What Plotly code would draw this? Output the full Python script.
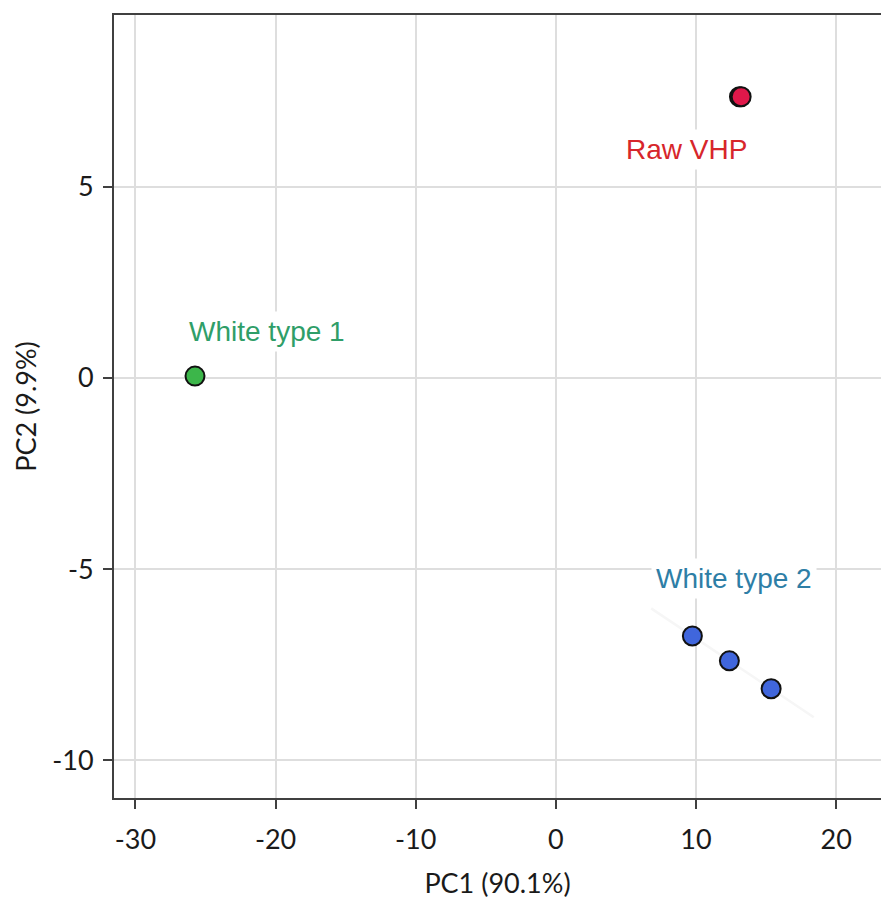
import numpy as np
import plotly.graph_objects as go

# Data
raw_x = [13.1, 13.22]
raw_y = [7.36, 7.36]
w1_x = [-25.75]
w1_y = [0.05]
w2_x = [9.74, 12.38, 15.36]
w2_y = [-6.75, -7.40, -8.13]

group_labels = ["Raw VHP", "White type 1", "White type 2"]
label_x = [9.29, -20.6, 12.72]
label_y = [5.97, 1.23, -5.24]
label_colors = ["#d7262b", "#2f9e68", "#2e7ea6"]

x_ticks = [-30, -20, -10, 0, 10, 20]
x_ticktext = ["-30", "-20", "-10", "0", "10", "20"]
y_ticks = [-10, -5, 0, 5]
y_ticktext = ["-10", "-5", "0", "5"]

fig = go.Figure()

# faint fit line through white type 2
coef = np.polyfit(w2_x, w2_y, 1)
fx = np.array([6.8, 18.4])
fig.add_trace(go.Scatter(x=fx, y=np.polyval(coef, fx), mode="lines",
                         line=dict(color="#f6f6f6", width=2.5), hoverinfo="skip"))

marker_line = dict(color="#111111", width=2)
fig.add_trace(go.Scatter(x=raw_x, y=raw_y, mode="markers",
                         marker=dict(size=19, color="#e0184a", line=marker_line)))
fig.add_trace(go.Scatter(x=w1_x, y=w1_y, mode="markers",
                         marker=dict(size=19, color="#3cb64a", line=marker_line)))
fig.add_trace(go.Scatter(x=w2_x, y=w2_y, mode="markers",
                         marker=dict(size=19, color="#4066dc", line=marker_line)))

for t, x, y, c in zip(group_labels, label_x, label_y, label_colors):
    fig.add_annotation(x=x, y=y, text=t, showarrow=False,
                       font=dict(family="Liberation Sans, Arial", size=28, color=c),
                       bgcolor="white", borderpad=4)

axis_common = dict(
    showgrid=True, gridcolor="#dedede", gridwidth=1.5,
    zeroline=False, showline=True, linecolor="#404040", linewidth=2,
    ticks="outside", ticklen=9, tickwidth=2, tickcolor="#404040",
    tickfont=dict(family="Lato", size=27, color="#1a1a1a"),
)

fig.update_layout(
    width=881, height=900,
    margin=dict(l=114, r=0, t=15, b=102),
    plot_bgcolor="white", paper_bgcolor="white",
    showlegend=False,
    xaxis=dict(range=[-31.53, 23.2], tickvals=x_ticks, ticktext=x_ticktext, mirror=True,
               ticklabelstandoff=8,
               title=dict(text="PC1 (90.1%)", font=dict(family="Lato", size=27, color="#1a1a1a"),
                          standoff=20),
               **axis_common),
    yaxis=dict(range=[-10.99, 9.5], tickvals=y_ticks, ticktext=y_ticktext,
               ticklabelstandoff=4,
               title=dict(text="PC2 (9.9%)", font=dict(family="Lato", size=27, color="#1a1a1a"),
                          standoff=8),
               **axis_common),
)

fig.write_html("out.html")
